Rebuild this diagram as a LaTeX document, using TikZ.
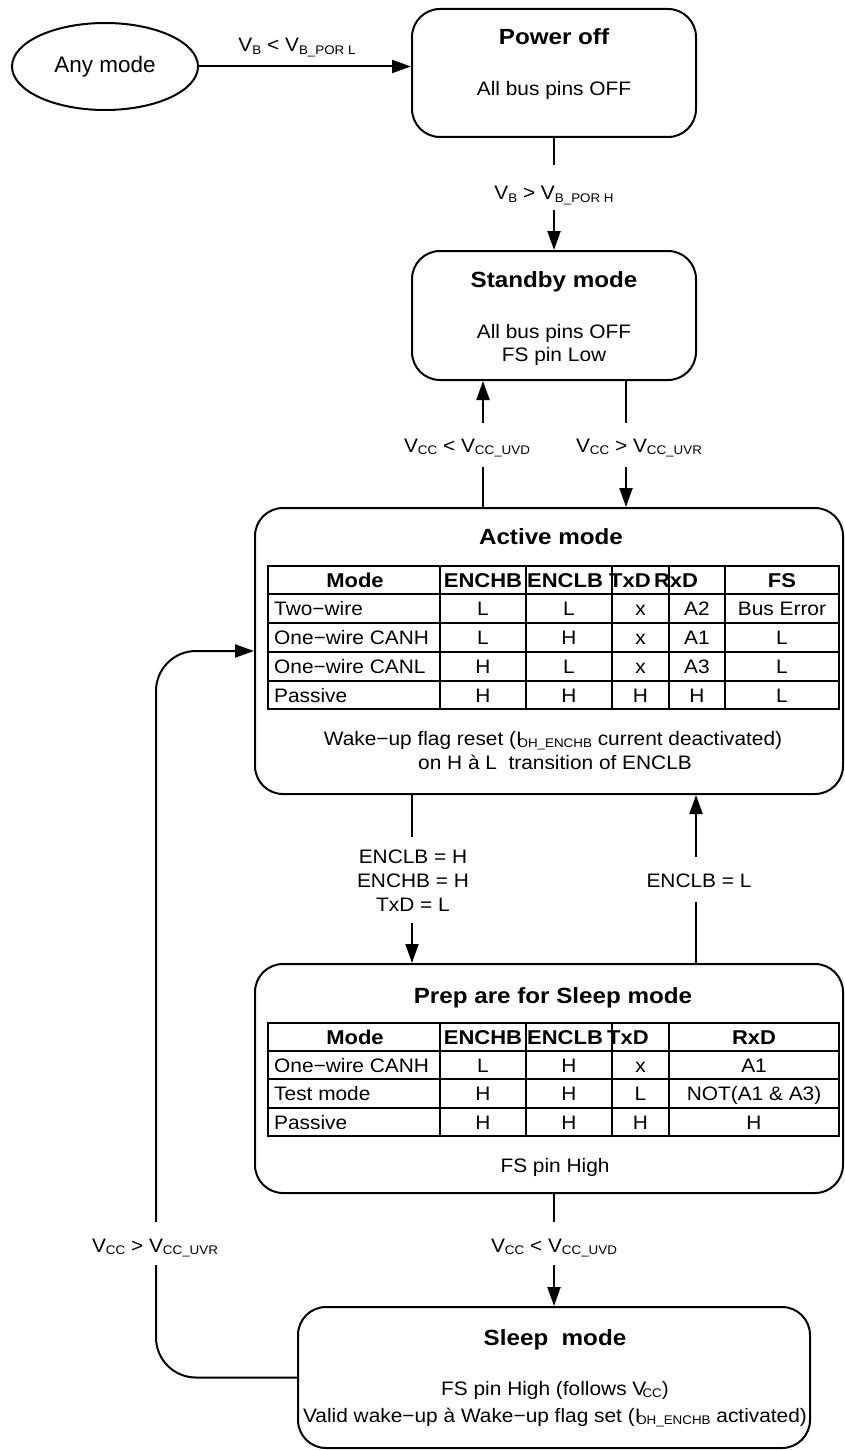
\documentclass[tikz,border=0pt]{standalone}
\usepackage{fontspec}
\setmainfont{Liberation Sans}[FakeStretch=1.07]
\newfontfamily\ttlfont{Liberation Sans}[FakeStretch=1.1]
\usepackage{graphicx}
\usetikzlibrary{arrows.meta,shapes.geometric}
\newcommand\lowsub[1]{\raisebox{-0.14em}{\fontsize{12.5}{13}\selectfont #1}}
\tikzset{
  box/.style={draw, line width=2pt, rounded corners=28pt, inner sep=0pt},
  arr/.style={line width=2pt, -{Triangle[length=19pt,width=13pt]}},
  ln/.style={line width=2pt},
  txt/.style={inner sep=0pt, anchor=base, font=\fontsize{19.5}{23}\selectfont},
  ttl/.style={inner sep=0pt, anchor=base, font=\ttlfont\bfseries\fontsize{22}{26}\selectfont},
  hdr/.style={inner sep=0pt, anchor=base, font=\ttlfont\bfseries\fontsize{20}{24}\selectfont},
  lcell/.style={txt, anchor=base west},
}
\begin{document}
\begin{tikzpicture}[x=1pt,y=-1pt]
\useasboundingbox (0,0) rectangle (844,1450);

% ---------- boxes ----------
\node[draw, ellipse, line width=2pt, minimum width=186pt, minimum height=87pt, inner sep=0pt,
      font=\fontsize{21}{24}\selectfont] (any) at (105,66.5) {\scalebox{1}[1.07]{Any mode}};
\node[box, minimum width=284pt, minimum height=128pt] (power) at (554,73) {};
\node[box, minimum width=284pt, minimum height=129pt] (standby) at (554,315.5) {};
\node[box, minimum width=588pt, minimum height=286pt] (active) at (549,651) {};
\node[box, minimum width=588pt, minimum height=229pt] (prepare) at (549,1078.5) {};
\node[box, minimum width=512pt, minimum height=141pt] (sleep) at (554,1377.5) {};

% ---------- power off ----------
\node[ttl] (pwrT) at (554,45) {Power off};
\node[txt] (pwrA) at (554,96) {All bus pins OFF};

% ---------- standby ----------
\node[ttl] (sbT) at (554,287) {Standby mode};
\node[txt] (sbA) at (554,338) {All bus pins OFF};
\node[txt] (sbB) at (554,361) {FS pin Low};

% ---------- active ----------
\node[ttl] (acT) at (551,544) {Active mode};
\draw[ln] (268,566) rectangle (839,709);
\foreach \yy in {594,623,652,681} \draw[ln] (268,\yy) -- (839,\yy);
\foreach \xx in {440,526,612,669,725} \draw[ln] (\xx,566) -- (\xx,709);
\node[hdr] (ah1) at (355,587) {Mode};
\node[hdr] (ah2) at (483,587) {ENCHB};
\node[hdr] (ah3) at (565,587) {ENCLB};
\node[hdr] (ah4) at (630,587) {TxD};
\node[hdr] (ah5) at (676,587) {RxD};
\node[hdr] (ah6) at (782,587) {FS};
\foreach \m/\a/\b/\c/\d/\f/\yb [count=\r] in
  {Two−wire/L/L/x/A2/Bus Error/615,
   One−wire CANH/L/H/x/A1/L/644,
   One−wire CANL/H/L/x/A3/L/673,
   Passive/H/H/H/H/L/702}
{
  \node[lcell] (ar\r m) at (274,\yb) {\m};
  \node[txt] (ar\r a) at (483,\yb) {\a};
  \node[txt] (ar\r b) at (569,\yb) {\b};
  \node[txt] (ar\r c) at (640.5,\yb) {\c};
  \node[txt] (ar\r d) at (697,\yb) {\d};
  \node[txt] (ar\r f) at (782,\yb) {\f};
}
\node[txt] (acW1) at (553,745) {Wake−up flag reset (I\kern-0.22em\lowsub{OH\_ENCHB} current deactivated)};
\node[txt] (acW2) at (555,769) {on H à L~ transition of ENCLB};

% ---------- prepare ----------
\node[ttl] (prT) at (553,1003) {Prep are for Sleep mode};
\draw[ln] (268,1023) rectangle (839,1136);
\foreach \yy in {1051,1079,1108} \draw[ln] (268,\yy) -- (839,\yy);
\foreach \xx in {440,526,612,669} \draw[ln] (\xx,1023) -- (\xx,1136);
\node[hdr] (ph1) at (355,1044) {Mode};
\node[hdr] (ph2) at (483,1044) {ENCHB};
\node[hdr] (ph3) at (565,1044) {ENCLB};
\node[hdr] (ph4) at (628,1044) {TxD};
\node[hdr] (ph5) at (754,1044) {RxD};
\foreach \m/\a/\b/\c/\d/\yb [count=\r] in
  {One−wire CANH/L/H/x/A1/1072,
   Test mode/H/H/L/NOT(A1 \& A3)/1100,
   Passive/H/H/H/H/1129}
{
  \node[lcell] (pr\r m) at (274,\yb) {\m};
  \node[txt] (pr\r a) at (483,\yb) {\a};
  \node[txt] (pr\r b) at (569,\yb) {\b};
  \node[txt] (pr\r c) at (640.5,\yb) {\c};
  \node[txt] (pr\r d) at (754,\yb) {\d};
}
\node[txt] (prF) at (555,1172) {FS pin High};

% ---------- sleep ----------
\node[ttl] (slT) at (555,1345) {Sleep~ mode};
\node[txt] (slA) at (555,1395) {FS pin High (follows V\kern-0.2em\lowsub{CC})};
\node[txt] (slB) at (555,1422) {Valid wake−up à Wake−up flag set (I\kern-0.22em\lowsub{OH\_ENCHB} activated)};

% ---------- connectors ----------
\draw[arr] (any.east) -- (any.east -| power.west);
\node[txt] (l1) at (297,52) {V\lowsub{B} < V\lowsub{B\_POR L}};

\coordinate (g1) at (554,165);
\coordinate (g2) at (554,210);
\draw[ln] (power.south) -- (g1);
\draw[arr] (g2) -- (standby.north);
\node[txt] (l2) at (554,200) {V\lowsub{B} > V\lowsub{B\_POR H}};

\coordinate (u1) at (483,467);
\coordinate (u2) at (483,423);
\draw[ln] (active.north -| u1) -- (u1);
\draw[arr] (u2) -- (standby.south -| u2);
\node[txt] (l3) at (467,452) {V\lowsub{CC} < V\lowsub{CC\_UVD}};

\coordinate (d1) at (626,423);
\coordinate (d2) at (626,467);
\draw[ln] (standby.south -| d1) -- (d1);
\draw[arr] (d2) -- (active.north -| d2);
\node[txt] (l4) at (639,452) {V\lowsub{CC} > V\lowsub{CC\_UVR}};

\coordinate (e1) at (412,837);
\coordinate (e2) at (412,923);
\draw[ln] (active.south -| e1) -- (e1);
\draw[arr] (e2) -- (prepare.north -| e2);
\node[txt] (l5a) at (413,863) {ENCLB = H};
\node[txt] (l5b) at (413,887) {ENCHB = H};
\node[txt] (l5c) at (413,911) {TxD = L};

\coordinate (f1) at (696,902);
\coordinate (f2) at (696,857);
\draw[ln] (prepare.north -| f1) -- (f1);
\draw[arr] (f2) -- (active.south -| f2);
\node[txt] (l6) at (699,887) {ENCLB = L};

\coordinate (h1) at (554,1222);
\coordinate (h2) at (554,1265);
\draw[ln] (prepare.south -| h1) -- (h1);
\draw[arr] (h2) -- (sleep.north);
\node[txt] (l7) at (554,1252) {V\lowsub{CC} < V\lowsub{CC\_UVD}};

\coordinate (k1) at (156,1265);
\coordinate (k2) at (156,1222);
\draw[ln, rounded corners=40pt] (sleep.west) -| (k1);
\draw[arr, rounded corners=40pt] (k2) |- (active.west);
\node[txt] (l8) at (155,1252) {V\lowsub{CC} > V\lowsub{CC\_UVR}};
\end{tikzpicture}
\end{document}
